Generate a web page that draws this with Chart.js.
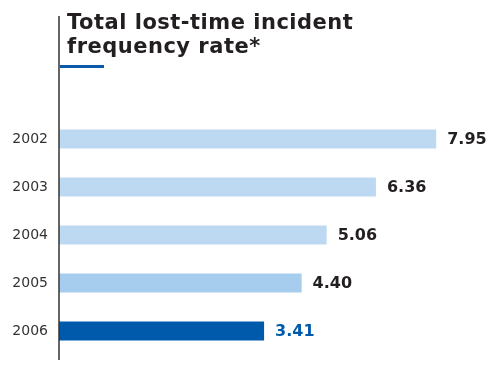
<!DOCTYPE html>
<html>
<head>
<meta charset="utf-8">
<script src="https://cdn.jsdelivr.net/npm/chart.js@4/dist/chart.umd.min.js"></script>
<style>
  html, body { margin: 0; padding: 0; background: #fff; }
  #wrap { position: relative; width: 491px; height: 365px; }
  #title { position: absolute; left: 67px; top: 10px; font-family: "DejaVu Sans", sans-serif; font-weight: bold; font-size: 21px; letter-spacing: 0.5px; line-height: 24px; color: #231f20; margin: 0; white-space: nowrap; }
  #rule { position: absolute; left: 60px; top: 65px; width: 44px; height: 3px; background: #0a5aa8; }
  canvas { position: absolute; left: 0; top: 0; }
</style>
</head>
<body>
<div id="wrap">
  <canvas id="c" width="491" height="365"></canvas>
  <div id="title">Total lost-time incident<br>frequency rate*</div>
  <div id="rule"></div>
</div>
<script>
const categories = ["2002", "2003", "2004", "2005", "2006"];
const values = [7.95, 6.36, 5.06, 4.40, 3.41];
const valueLabels = ["7.95", "6.36", "5.06", "4.40", "3.41"];
const barColors = ["#bcd9f1", "#bcd9f1", "#bcd9f1", "#a6cdee", "#005aab"];
const labelColors = ["#231f20", "#231f20", "#231f20", "#231f20", "#005aab"];
const axisMin = -2;
const axisMax = 9;

const axisLine = {
  id: 'axisLine',
  afterDraw(chart) {
    const { ctx, chartArea } = chart;
    ctx.save();
    ctx.strokeStyle = '#333';
    ctx.lineWidth = 1.5;
    ctx.beginPath();
    ctx.moveTo(chartArea.left, chartArea.top - 99);
    ctx.lineTo(chartArea.left, chartArea.bottom + 5);
    ctx.stroke();
    ctx.restore();
  }
};

const valueLabelPlugin = {
  id: 'valueLabels',
  afterDatasetsDraw(chart) {
    const { ctx } = chart;
    const meta = chart.getDatasetMeta(0);
    ctx.save();
    ctx.font = 'bold 16px "DejaVu Sans", sans-serif';
    ctx.textAlign = 'left';
    ctx.textBaseline = 'middle';
    meta.data.forEach((bar, i) => {
      ctx.fillStyle = labelColors[i];
      ctx.fillText(valueLabels[i], bar.x + 11, bar.y + 1);
    });
    ctx.restore();
  }
};

new Chart(document.getElementById('c'), {
  type: 'bar',
  data: {
    labels: categories,
    datasets: [{
      data: values,
      base: axisMin,
      backgroundColor: barColors,
      borderWidth: 0,
      barPercentage: 0.4,
      categoryPercentage: 1.0
    }]
  },
  options: {
    indexAxis: 'y',
    responsive: false,
    animation: false,
    layout: { padding: { top: 115, bottom: 10, right: 15, left: 0 } },
    plugins: { legend: { display: false }, tooltip: { enabled: false }, title: { display: false } },
    scales: {
      x: { display: false, min: axisMin, max: axisMax },
      y: {
        afterFit(s) { s.width = 59; s.paddingTop = 0; s.paddingBottom = 0; },
        grid: { display: false, drawTicks: false },
        border: { display: false },
        ticks: {
          padding: 11,
          color: '#333',
          font: { family: '"DejaVu Sans", sans-serif', size: 14 }
        }
      }
    }
  },
  plugins: [axisLine, valueLabelPlugin]
});
</script>
</body>
</html>
